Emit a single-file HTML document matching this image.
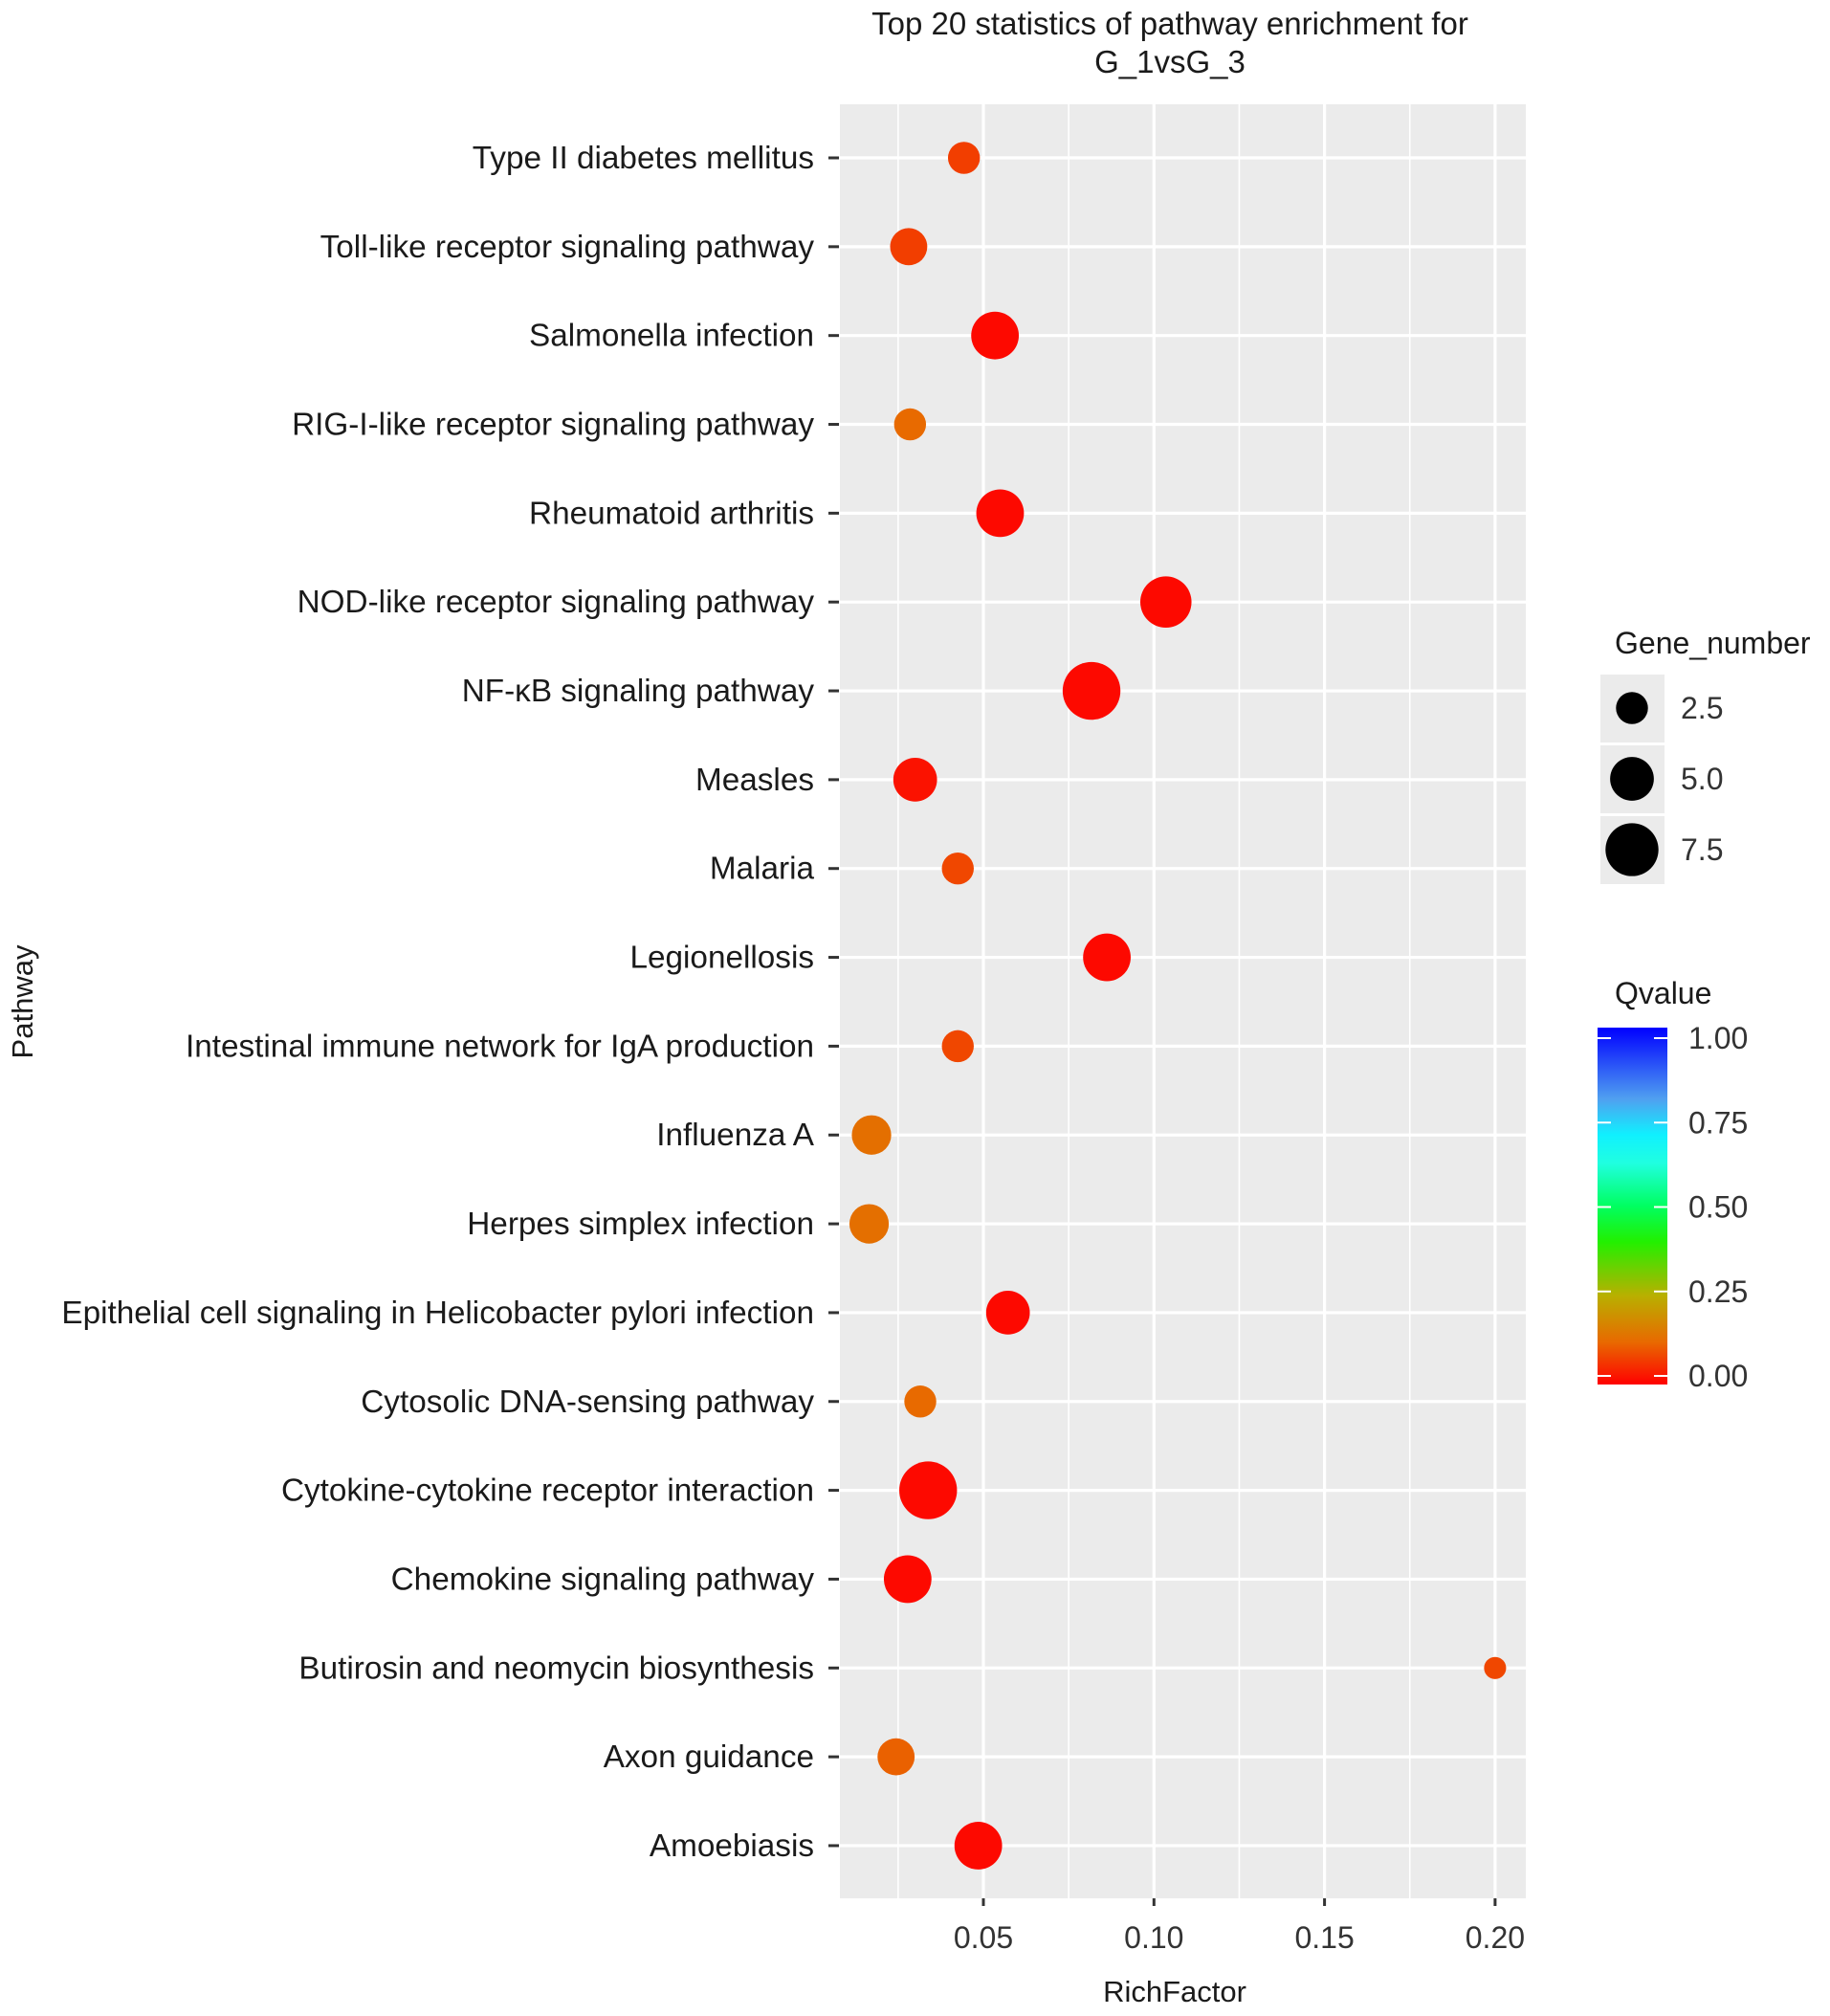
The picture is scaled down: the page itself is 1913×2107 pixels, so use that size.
<!DOCTYPE html>
<html><head><meta charset="utf-8"><style>
body{margin:0;background:#fff}
svg{display:block;font-family:"Liberation Sans",Arial,sans-serif}
</style></head><body>
<svg id="chart" width="1913" height="2107" viewBox="0 0 1913 2107">
<text x="1223" y="36" font-size="33" text-anchor="middle" fill="#1a1a1a">Top 20 statistics of pathway enrichment for</text>
<text x="1223" y="76" font-size="33" text-anchor="middle" fill="#1a1a1a">G_1vsG_3</text>
<rect x="878" y="109" width="717" height="1875" fill="#ebebeb"/>
<g id="grid"></g>
<g id="yaxis"></g>
<g id="xaxis"></g>
<g id="points"></g>
<text transform="translate(34,1047) rotate(-90)" font-size="31" text-anchor="middle" fill="#1a1a1a">Pathway</text>
<text x="1228" y="2092" font-size="31" text-anchor="middle" fill="#1a1a1a">RichFactor</text>
<g id="legend-size"></g>
<defs><linearGradient id="qgrad" x1="0" y1="1" x2="0" y2="0">
<stop offset="0" stop-color="#ff0000"/><stop offset="0.12" stop-color="#e86a00"/><stop offset="0.25" stop-color="#b8b000"/>
<stop offset="0.4" stop-color="#22f000"/><stop offset="0.5" stop-color="#00ff60"/><stop offset="0.62" stop-color="#20ffe0"/>
<stop offset="0.7" stop-color="#10f0ff"/><stop offset="0.8" stop-color="#50a0f0"/><stop offset="1" stop-color="#0000ff"/>
</linearGradient></defs>
<g id="legend-color"></g>
</svg>
<script>
const categories=["Type II diabetes mellitus","Toll-like receptor signaling pathway","Salmonella infection","RIG-I-like receptor signaling pathway","Rheumatoid arthritis","NOD-like receptor signaling pathway","NF-κB signaling pathway","Measles","Malaria","Legionellosis","Intestinal immune network for IgA production","Influenza A","Herpes simplex infection","Epithelial cell signaling in Helicobacter pylori infection","Cytosolic DNA-sensing pathway","Cytokine-cytokine receptor interaction","Chemokine signaling pathway","Butirosin and neomycin biosynthesis","Axon guidance","Amoebiasis"];
const richFactor=[0.0443,0.0281,0.0534,0.0285,0.0549,0.1035,0.0817,0.0300,0.0425,0.0862,0.0425,0.0172,0.0165,0.0572,0.0315,0.0338,0.0278,0.200,0.0244,0.0485];
const geneNumber=[2.5,3.5,6,2.5,6,7,9,5,2.5,6,2.5,4,4,5,2.5,9,6,1,3.5,6];
const qvalue=[0.07,0.07,0.01,0.12,0.01,0.01,0.01,0.02,0.08,0.01,0.08,0.13,0.13,0.01,0.12,0.01,0.01,0.08,0.11,0.01];
const xTicks=[0.05,0.10,0.15,0.20];
const xTickLabels=["0.05","0.10","0.15","0.20"];
const xMinor=[0.025,0.075,0.125,0.175];
const sizeLegend=[2.5,5.0,7.5];
const qTicks=[0,0.25,0.5,0.75,1];
const NS="http://www.w3.org/2000/svg";
const X=v=>1028+(v-0.05)*3566;
const Y=i=>165+i*92.84;
const R=n=>1.3425*Math.sqrt(20+54*n);
const stops=[[0,[255,0,0]],[0.12,[232,106,0]],[0.25,[184,176,0]],[0.4,[34,240,0]],[0.5,[0,255,96]],[0.62,[32,255,224]],[0.7,[16,240,255]],[0.8,[80,160,240]],[1,[0,0,255]]];
function qcol(q){for(let i=1;i<stops.length;i++){if(q<=stops[i][0]){const a=stops[i-1],b=stops[i],t=(q-a[0])/(b[0]-a[0]);return "rgb("+a[1].map((c,k)=>Math.round(c+(b[1][k]-c)*t)).join(",")+")";}}return "rgb(0,0,255)";}
function mk(tag,at,parent){const e=document.createElementNS(NS,tag);for(const k in at)e.setAttribute(k,at[k]);parent.appendChild(e);return e;}
const grid=document.getElementById('grid'),ya=document.getElementById('yaxis'),xa=document.getElementById('xaxis'),pts=document.getElementById('points');
xMinor.forEach(v=>{const l=mk('line',{x1:X(v),x2:X(v),y1:109,y2:1984,stroke:'#fff','stroke-width':1.6},grid);

});
xTicks.forEach((v,i)=>{const l=mk('line',{x1:X(v),x2:X(v),y1:109,y2:1984,stroke:'#fff','stroke-width':3.2},grid);


const t=mk('line',{x1:X(v),x2:X(v),y1:1984,y2:1992,stroke:'#333','stroke-width':3},xa);


const tx=mk('text',{x:X(v),y:2036,'font-size':32,'text-anchor':'middle',fill:'#333'},xa);tx.textContent=xTickLabels[i];

});
categories.forEach((c,i)=>{const y=Y(i);
const l=mk('line',{x1:878,x2:1595,y1:y,y2:y,stroke:'#fff','stroke-width':3.2},grid);


const t=mk('line',{x1:866,x2:877,y1:y,y2:y,stroke:'#333','stroke-width':3},ya);


const tx=mk('text',{x:851,y:y+11,'font-size':33.3,'text-anchor':'end',fill:'#1a1a1a'},ya);tx.textContent=c;


const p=mk('circle',{cx:X(richFactor[i]),cy:y,r:R(geneNumber[i]),fill:qcol(qvalue[i])},pts);

});
const ls=document.getElementById('legend-size');
const lt=mk('text',{x:1688,y:683,'font-size':32,fill:'#1a1a1a'},ls);lt.textContent='Gene_number';


sizeLegend.forEach((n,i)=>{const y0=705+i*74;
const b=mk('rect',{x:1673,y:y0,width:67,height:71,fill:'#ebebeb'},ls);


const c=mk('circle',{cx:1706,cy:y0+35,r:R(n),fill:'#000'},ls);


const t=mk('text',{x:1757,y:y0+46,'font-size':32,fill:'#333'},ls);t.textContent=n.toFixed(1);

});
const lc=document.getElementById('legend-color');
const ct=mk('text',{x:1688,y:1049,'font-size':32,fill:'#1a1a1a'},lc);ct.textContent='Qvalue';


const bar=mk('rect',{x:1670,y:1074,width:73,height:373,fill:'url(#qgrad)'},lc);


qTicks.forEach(q=>{const y=1438-q*353;
const a=mk('line',{x1:1670,x2:1684,y1:y,y2:y,stroke:'#fff','stroke-width':2},lc);


const b=mk('line',{x1:1729,x2:1743,y1:y,y2:y,stroke:'#fff','stroke-width':2},lc);


const t=mk('text',{x:1765,y:y+11,'font-size':32,fill:'#333'},lc);t.textContent=q.toFixed(2);

});
</script>
</body></html>
